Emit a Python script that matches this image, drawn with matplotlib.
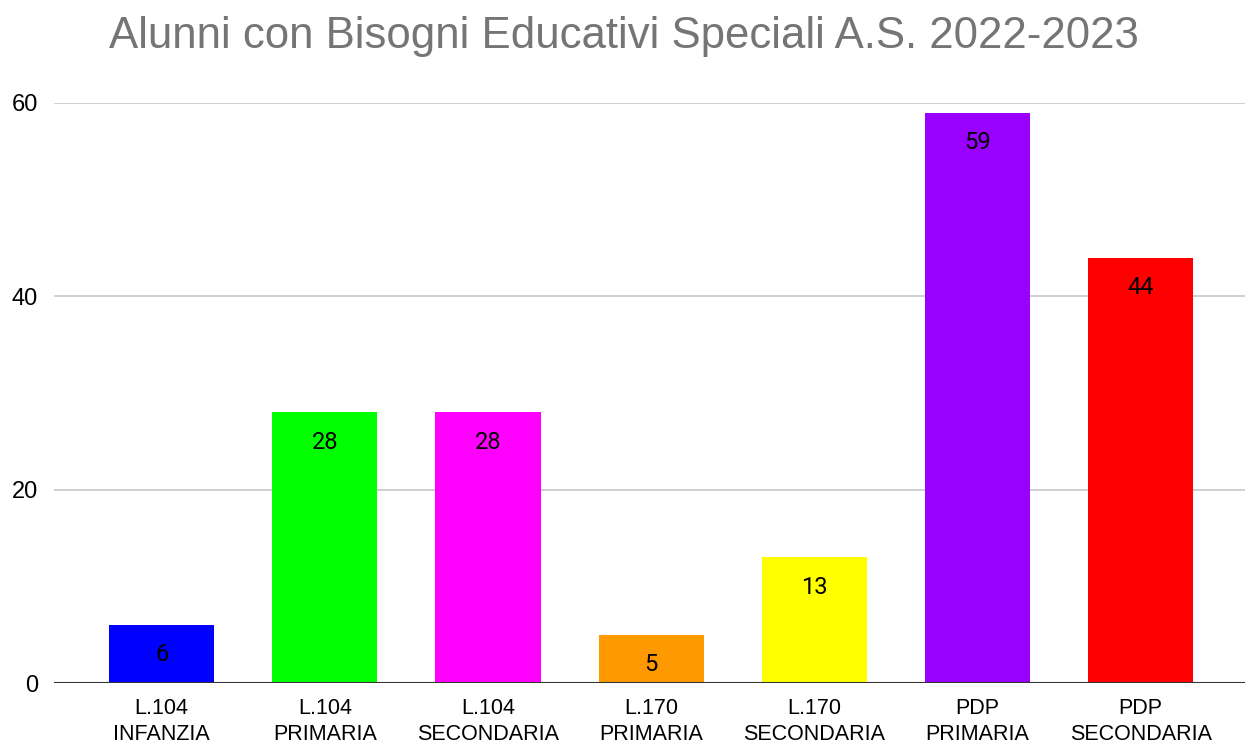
import matplotlib
matplotlib.use("Agg")
import matplotlib.pyplot as plt

plt.rcParams["font.family"] = ["Liberation Sans", "DejaVu Sans"]

categories = ["L.104\nINFANZIA", "L.104\nPRIMARIA", "L.104\nSECONDARIA",
              "L.170\nPRIMARIA", "L.170\nSECONDARIA", "PDP\nPRIMARIA", "PDP\nSECONDARIA"]
values = [6, 28, 28, 5, 13, 59, 44]
colors = ["#0000ff", "#00ff00", "#ff00ff", "#ff9900", "#ffff00", "#9900ff", "#ff0000"]
y_ticks = [0, 20, 40, 60]

fig = plt.figure(figsize=(12.47, 7.49), dpi=100)
ax = fig.add_axes([0.0433, 0.0881, 0.9551, 0.7744])

x = range(len(values))
bars = ax.bar(x, values, width=0.645, color=colors, zorder=3)

# value labels inside the top of each bar
for b, v in zip(bars, values):
    ax.annotate(str(v), (b.get_x() + b.get_width() / 2, v), xytext=(0, -21.5),
                textcoords="offset points", ha="center", va="center",
                fontsize=17, color="black", family=["Roboto", "DejaVu Sans"], zorder=4)

ax.set_xlim(-0.66, 6.64)
ax.set_ylim(0, 60)
ax.set_yticks(y_ticks)
ax.set_xticks(list(x))
ax.set_xticklabels(categories, fontsize=15.5, linespacing=1.35)
ax.tick_params(axis="y", length=0, pad=11.5, labelsize=17)
ax.tick_params(axis="x", length=0, pad=10.5)
ax.grid(axis="y", color="#cccccc", linewidth=1.3, zorder=0)
ax.axhline(0, color="#333333", linewidth=1.5, zorder=4)
for s in ax.spines.values():
    s.set_visible(False)

fig.text(0.5, 0.951, "Alunni con Bisogni Educativi Speciali A.S. 2022-2023",
         ha="center", va="center", fontsize=31.5, color="#757575")

fig.savefig("out.png", dpi=100)
